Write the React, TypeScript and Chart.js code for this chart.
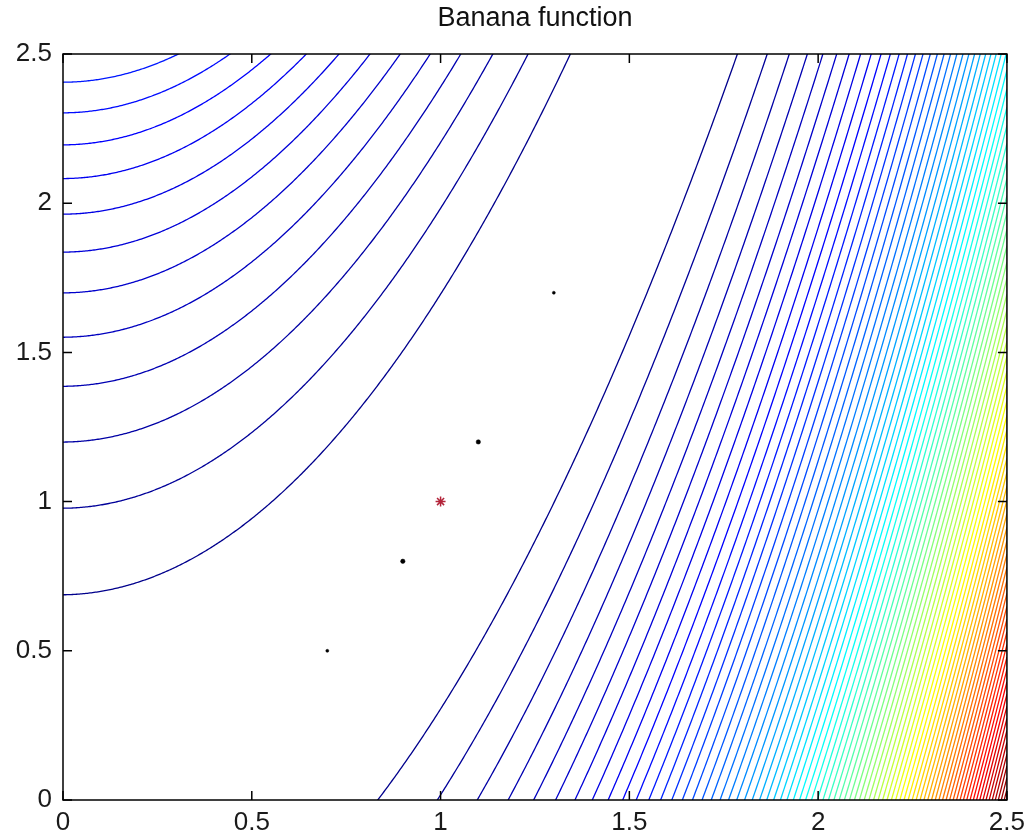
import { useEffect, useRef } from "react";
import { Chart, registerables } from "chart.js";

Chart.register(...registerables);

// ---- chart content ----
const TITLE = "Banana function";
const AXIS_MIN = 0;
const AXIS_MAX = 2.5;
const TICK_VALUES = [0, 0.5, 1, 1.5, 2, 2.5];
const TICK_LABELS = ["0", "0.5", "1", "1.5", "2", "2.5"];

// Banana (Rosenbrock) surface: f(x,y) = A*(y - x^2)^2 + (1 - x)^2
const BANANA_A = 100;
const LEVEL_STEP = 48.3;
const LEVEL_COUNT = 80;
const Z_MAX = 3908.5; // value at the lower right corner (colour scale top)

// iterates of the search path (black dots) and the minimum (red star)
const PATH_X = [0.7, 0.9, 1.1, 1.3];
const PATH_Y = [0.5, 0.8, 1.2, 1.7];
const PATH_SIZE = [1.5, 2.2, 2.2, 1.5];
const MIN_X = [1];
const MIN_Y = [1];

// ---- styling ----
const FONT = "'Liberation Sans', Arial, Helvetica, sans-serif";
const TICK_LEN = 9;
const SAMPLES = 700;

function jet(t: number): string {
  const c = (v: number) => Math.round(255 * Math.max(0, Math.min(1, 1.5 - Math.abs(v))));
  return `rgb(${c(4 * t - 3)},${c(4 * t - 2)},${c(4 * t - 1)})`;
}

function contourBranch(level: number, sign: number) {
  const pts: { x: number; y: number }[] = [];
  for (let i = 0; i <= SAMPLES; i++) {
    const x = AXIS_MIN + ((AXIS_MAX - AXIS_MIN) * i) / SAMPLES;
    const d = level - (1 - x) * (1 - x);
    if (d < 0) continue;
    const y = x * x + sign * Math.sqrt(d / BANANA_A);
    if (y < -0.3 || y > 2.8) continue;
    pts.push({ x, y });
  }
  return pts;
}

function tickLabel(value: number): string {
  const i = TICK_VALUES.indexOf(value);
  return i >= 0 ? TICK_LABELS[i] : "";
}

const framePlugin = {
  id: "matlabFrame",
  afterDatasetsDraw(chart: any) {
    const { ctx, chartArea: a, scales } = chart;
    ctx.save();
    ctx.strokeStyle = "#000";
    ctx.lineWidth = 1.5;
    ctx.strokeRect(a.left, a.top, a.right - a.left, a.bottom - a.top);
    ctx.beginPath();
    for (const v of TICK_VALUES) {
      const px = scales.x.getPixelForValue(v);
      ctx.moveTo(px, a.bottom);
      ctx.lineTo(px, a.bottom - TICK_LEN);
      ctx.moveTo(px, a.top);
      ctx.lineTo(px, a.top + TICK_LEN);
      const py = scales.y.getPixelForValue(v);
      ctx.moveTo(a.left, py);
      ctx.lineTo(a.left + TICK_LEN, py);
      ctx.moveTo(a.right, py);
      ctx.lineTo(a.right - TICK_LEN, py);
    }
    ctx.stroke();
    ctx.restore();
  },
};

export default function App() {
  const canvasRef = useRef<HTMLCanvasElement | null>(null);

  useEffect(() => {
    if (!canvasRef.current) return;
    const datasets: any[] = [];
    for (let k = 1; k <= LEVEL_COUNT; k++) {
      const level = k * LEVEL_STEP;
      const color = jet(level / Z_MAX);
      for (const sign of [1, -1]) {
        const data = contourBranch(level, sign);
        if (data.length < 2) continue;
        datasets.push({
          data,
          showLine: true,
          borderColor: color,
          borderWidth: 1.3,
          pointRadius: 0,
          fill: false,
          tension: 0,
          clip: 0,
        });
      }
    }
    datasets.push({
      data: PATH_X.map((x, i) => ({ x, y: PATH_Y[i] })),
      showLine: false,
      pointRadius: PATH_SIZE,
      pointBackgroundColor: "#000",
      pointBorderColor: "#000",
      pointBorderWidth: 0.5,
    });
    datasets.push({
      data: MIN_X.map((x, i) => ({ x, y: MIN_Y[i] })),
      showLine: false,
      pointStyle: "star",
      pointRadius: 5,
      pointBorderColor: "#b3243a",
      pointBorderWidth: 1.5,
      pointBackgroundColor: "#b3243a",
    });

    const tickFont = { family: FONT, size: 26 };
    const chart = new Chart(canvasRef.current, {
      type: "scatter",
      data: { datasets },
      plugins: [framePlugin],
      options: {
        responsive: false,
        devicePixelRatio: 1,
        animation: false,
        parsing: false,
        normalized: true,
        events: [],
        layout: { padding: { left: 0, right: 24, top: 0, bottom: 0 } },
        plugins: {
          legend: { display: false },
          tooltip: { enabled: false },
          title: {
            display: true,
            text: TITLE,
            fullSize: false,
            color: "#111",
            font: { family: FONT, size: 27, weight: "normal" },
            padding: { top: 2, bottom: 19.6 },
          },
        },
        scales: {
          x: {
            type: "linear",
            min: AXIS_MIN,
            max: AXIS_MAX,
            afterBuildTicks: (s: any) => {
              s.ticks = TICK_VALUES.map((value) => ({ value }));
            },
            afterFit: (s: any) => {
              s.height = 38;
            },
            grid: { display: false, drawTicks: false },
            border: { display: false },
            ticks: {
              padding: 7,
              font: tickFont,
              color: "#1a1a1a",
              maxRotation: 0,
              autoSkip: false,
              callback: (v: any) => tickLabel(Number(v)),
            },
          },
          y: {
            type: "linear",
            min: AXIS_MIN,
            max: AXIS_MAX,
            afterBuildTicks: (s: any) => {
              s.ticks = TICK_VALUES.map((value) => ({ value }));
            },
            afterFit: (s: any) => {
              s.width = 63;
            },
            grid: { display: false, drawTicks: false },
            border: { display: false },
            ticks: {
              padding: 11,
              font: tickFont,
              color: "#1a1a1a",
              autoSkip: false,
              callback: (v: any) => tickLabel(Number(v)),
            },
          },
        },
      } as any,
    });
    return () => chart.destroy();
  }, []);

  return (
    <div style={{ position: "fixed", left: 0, top: 0, width: 1032, height: 838, background: "#fff" }}>
      <canvas ref={canvasRef} width={1032} height={838} style={{ display: "block" }} />
    </div>
  );
}
